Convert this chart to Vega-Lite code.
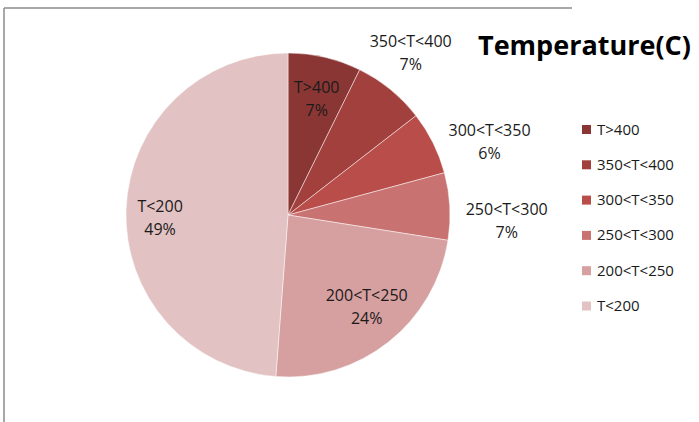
{
  "$schema": "https://vega.github.io/schema/vega-lite/v6.json",
  "width": 568,
  "height": 414,
  "autosize": {"type": "none"},
  "padding": {"left": 4, "top": 8, "right": 127, "bottom": 0},
  "background": "white",
  "view": {"stroke": "#8c8c8c", "strokeWidth": 1.5, "strokeDash": [568, 982, 414, 0]},
  "config": {
    "text": {"font": "Open Sans", "fontSize": 16, "color": "#1a1a1a"}
  },
  "title": {
    "text": "Temperature(C)",
    "anchor": "start",
    "frame": "group",
    "font": "Open Sans",
    "fontWeight": "bold",
    "fontSize": 27,
    "color": "black",
    "offset": 0,
    "baseline": "alphabetic",
    "dx": 474,
    "dy": 89
  },
  "data": {
    "values": [
      {"i": 1, "cat": "T>400", "share": 7.3},
      {"i": 2, "cat": "350<T<400", "share": 7.2},
      {"i": 3, "cat": "300<T<350", "share": 6.3},
      {"i": 4, "cat": "250<T<300", "share": 6.7},
      {"i": 5, "cat": "200<T<250", "share": 23.7},
      {"i": 6, "cat": "T<200", "share": 48.8}
    ]
  },
  "transform": [
    {"calculate": "datum.cat + '\\n' + format(datum.share, '.0f') + '%'", "as": "lbl"}
  ],
  "encoding": {
    "theta": {"field": "share", "type": "quantitative", "stack": true},
    "order": {"field": "i", "type": "quantitative"}
  },
  "layer": [
    {
      "mark": {"type": "arc", "outerRadius": 162, "stroke": "white", "strokeWidth": 0.8, "strokeOpacity": 0.6},
      "encoding": {
        "color": {
          "field": "cat",
          "type": "nominal",
          "scale": {
            "domain": ["T>400", "350<T<400", "300<T<350", "250<T<300", "200<T<250", "T<200"],
            "range": ["#8A3634", "#A2403E", "#B84D4A", "#C87371", "#D7A0A0", "#E2C2C3"]
          },
          "legend": {
            "title": null,
            "orient": "none",
            "legendX": 575,
            "legendY": 114,
            "symbolType": "square",
            "symbolSize": 81,
            "symbolStrokeWidth": 0,
            "labelFont": "Open Sans",
            "labelFontSize": 15,
            "labelColor": "#1a1a1a",
            "labelOffset": 3,
            "rowPadding": 19.3
          }
        }
      }
    },
    {
      "mark": {"type": "text", "radius": 122, "lineBreak": "\n", "baseline": "middle", "lineHeight": 23, "dx": 1, "dy": -8},
      "encoding": {
        "text": {"condition": {"test": "datum.cat === 'T>400'", "field": "lbl"}, "value": ""}
      }
    },
    {
      "mark": {"type": "text", "radius": 122, "lineBreak": "\n", "baseline": "middle", "lineHeight": 23, "dx": 3, "dy": -15},
      "encoding": {
        "text": {"condition": {"test": "datum.cat === '200<T<250'", "field": "lbl"}, "value": ""}
      }
    },
    {
      "mark": {"type": "text", "radius": 122, "lineBreak": "\n", "baseline": "middle", "lineHeight": 23, "dx": -6, "dy": -3},
      "encoding": {
        "text": {"condition": {"test": "datum.cat === 'T<200'", "field": "lbl"}, "value": ""}
      }
    },
    {
      "mark": {"type": "text", "radius": 205, "lineBreak": "\n", "baseline": "middle", "lineHeight": 23, "dx": -7, "dy": -14},
      "encoding": {
        "text": {"condition": {"test": "datum.cat === '350<T<400'", "field": "lbl"}, "value": ""}
      }
    },
    {
      "mark": {"type": "text", "radius": 205, "lineBreak": "\n", "baseline": "middle", "lineHeight": 23, "dx": 18, "dy": 7},
      "encoding": {
        "text": {"condition": {"test": "datum.cat === '300<T<350'", "field": "lbl"}, "value": ""}
      }
    },
    {
      "mark": {"type": "text", "radius": 205, "lineBreak": "\n", "baseline": "middle", "lineHeight": 23, "dx": 14, "dy": 6},
      "encoding": {
        "text": {"condition": {"test": "datum.cat === '250<T<300'", "field": "lbl"}, "value": ""}
      }
    }
  ]
}
